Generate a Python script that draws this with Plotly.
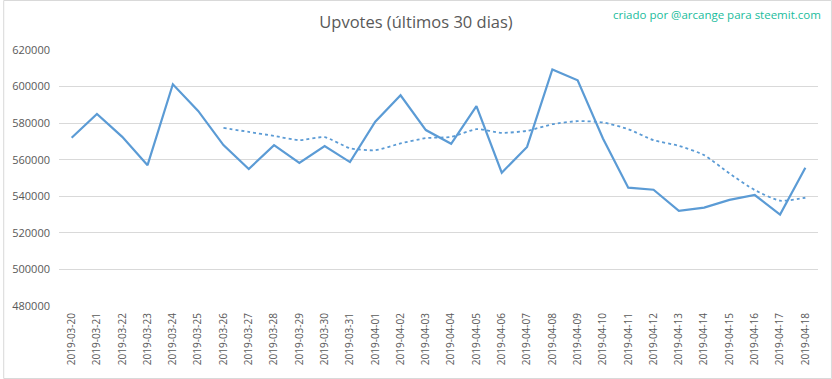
import plotly.graph_objects as go

dates = ["2019-03-20", "2019-03-21", "2019-03-22", "2019-03-23", "2019-03-24", "2019-03-25",
         "2019-03-26", "2019-03-27", "2019-03-28", "2019-03-29", "2019-03-30", "2019-03-31",
         "2019-04-01", "2019-04-02", "2019-04-03", "2019-04-04", "2019-04-05", "2019-04-06",
         "2019-04-07", "2019-04-08", "2019-04-09", "2019-04-10", "2019-04-11", "2019-04-12",
         "2019-04-13", "2019-04-14", "2019-04-15", "2019-04-16", "2019-04-17", "2019-04-18"]

upvotes = [572000, 585000, 572500, 557000, 601250, 586700, 568000, 554900, 568000, 558200,
           567400, 558700, 580800, 595250, 576200, 568700, 589250, 552900, 567000, 609400,
           603400, 571600, 544700, 543600, 532000, 533800, 538000, 540700, 530000, 555600]

trend_dates = dates[6:]
trend = [577400, 575200, 573000, 570700, 572300, 566300, 565200, 568900, 571800, 572500,
         576700, 574700, 575800, 579400, 581100, 580400, 576700, 570700, 567600, 562500,
         552500, 543400, 537600, 539200]

yticks = [480000, 500000, 520000, 540000, 560000, 580000, 600000, 620000]

blue = "#5B9BD5"
fig = go.Figure()
fig.add_trace(go.Scatter(x=dates, y=upvotes, mode="lines",
                         line=dict(color=blue, width=2.2), showlegend=False))
fig.add_trace(go.Scatter(x=trend_dates, y=trend, mode="lines",
                         line=dict(color=blue, width=1.8, dash="dot", shape="spline", smoothing=0.6),
                         showlegend=False))

W, H = 832, 379
ml, mr, mt, mb = 56, 14, 50, 73
pw = W - ml - mr
ph = H - mt - mb

fig.update_layout(
    width=W, height=H,
    margin=dict(l=ml, r=mr, t=mt, b=mb),
    paper_bgcolor="white", plot_bgcolor="white",
    title=dict(text="Upvotes (últimos 30 dias)", x=0.5, xanchor="center",
               y=1 - 22 / H, yanchor="middle",
               font=dict(family="Open Sans", size=16.5, color="#595959")),
    xaxis=dict(type="category", tickangle=-90, showgrid=False, zeroline=False,
               showline=False, ticks="", range=[-0.5, len(dates) - 0.5],
               ticklabelstandoff=4,
               tickfont=dict(family="Open Sans", size=10, color="#595959")),
    yaxis=dict(range=[480000, 620000], tickvals=yticks, ticktext=[str(v) for v in yticks],
               showgrid=True, gridcolor="#D9D9D9", gridwidth=1, zeroline=False,
               showline=False, ticks="", ticklabelstandoff=8,
               tickfont=dict(family="Open Sans", size=11, color="#595959")),
    annotations=[dict(text="criado por @arcange para steemit.com", xref="paper", yref="paper",
                      x=(W - 9 - ml) / pw, y=1 + (mt - 14) / ph, xanchor="right", yanchor="middle",
                      showarrow=False,
                      font=dict(family="Open Sans", size=11.5, color="#1ABC9C"))],
    shapes=[dict(type="rect", xref="paper", yref="paper",
                 x0=(0.5 - ml) / pw, x1=(W - 0.5 - ml) / pw,
                 y0=-(mb - 0.5) / ph, y1=1 + (mt - 0.5) / ph,
                 line=dict(color="#D9D9D9", width=1), fillcolor="rgba(0,0,0,0)", layer="below")],
)

fig.write_html("out.html")
